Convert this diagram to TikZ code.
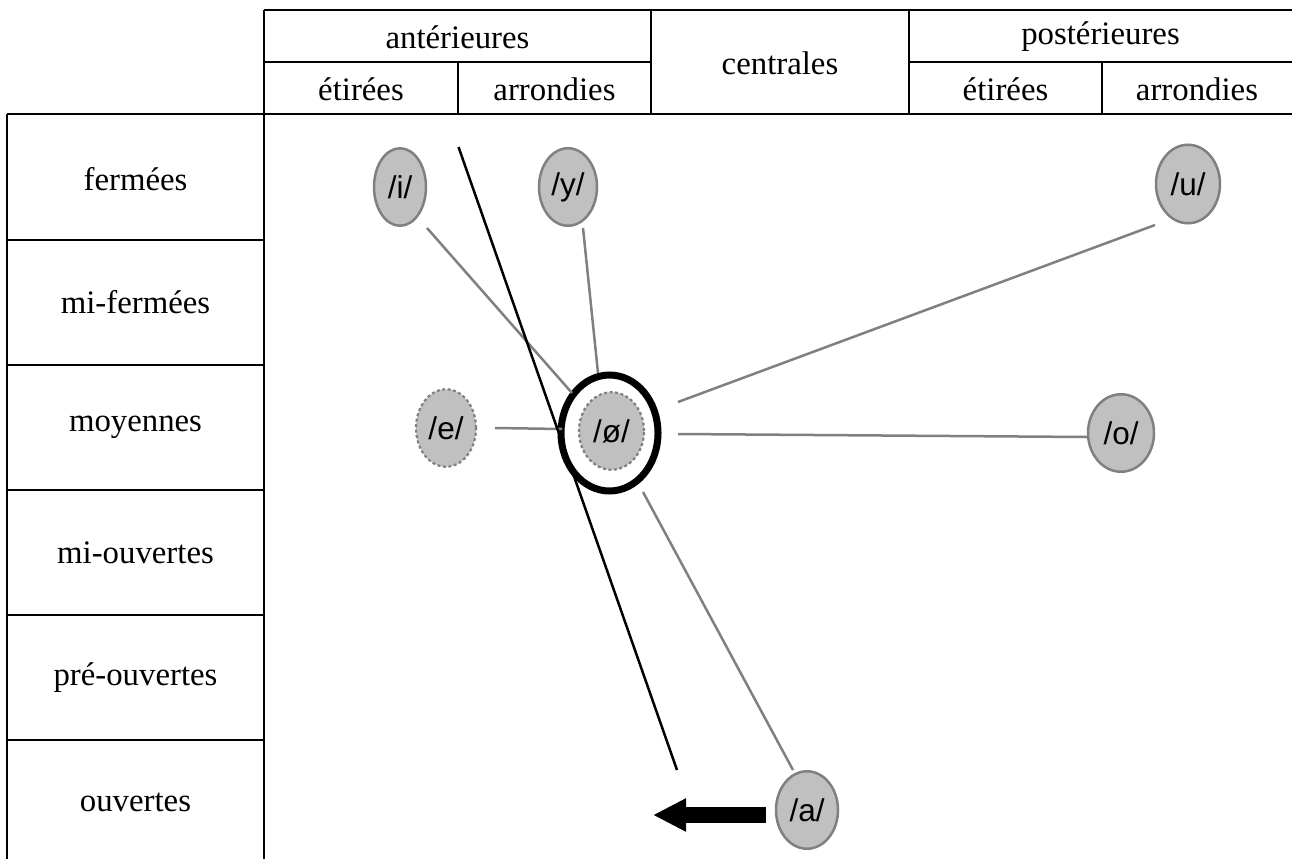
\documentclass[tikz,border=0pt]{standalone}
\usepackage{fontspec}
\setmainfont{Liberation Serif}
\newfontfamily\vowelfont{Liberation Sans}
\usetikzlibrary{shapes.geometric,arrows.meta,calc}
\definecolor{vfill}{HTML}{C0C0C0}
\definecolor{vline}{HTML}{808080}
\begin{document}
\begin{tikzpicture}[x=1pt,y=-1pt,
  rule/.style={line width=1.8pt, black},
  thinrule/.style={line width=1.2pt, black},
  cell/.style={font=\fontsize{32.8}{38}\selectfont, inner sep=0pt},
  vowel/.style={ellipse, draw=vline, fill=vfill, line width=2.5pt, inner sep=0pt,
    minimum height=77.5pt, font=\vowelfont\fontsize{31.5}{36}\selectfont},
  weak/.style={vowel, line width=2.2pt, dash pattern=on 3pt off 2.5pt},
  ringstyle/.style={ellipse, draw=black, line width=7pt, inner sep=0pt,
    minimum width=97pt, minimum height=116pt},
  link/.style={draw=vline, line width=2.5pt},
  bigarrow/.style={line width=16.5pt,
    -{Triangle[length=33pt, width=31pt]}}
]
\useasboundingbox (0,0) rectangle (1292,859);

% header grid
\draw[rule] (264,10) -- (1292,10);
\draw[thinrule] (264,62) -- (651,62) (909,62) -- (1292,62);
\draw[rule] (7,114) -- (1292,114);
\draw[rule] (264,10) -- (264,859);
\draw[thinrule] (458,62) -- (458,114) (651,10) -- (651,114)
  (909,10) -- (909,114) (1102,62) -- (1102,114);

% row headings grid
\draw[rule] (7,114) -- (7,859);
\foreach \yy in {240,365,490,615,740} \draw[rule] (7,\yy) -- (264,\yy);

% column headings
\node[cell] (hant) at (457.5,37) {antérieures};
\node[cell] (hant1) at (361,89) {étirées};
\node[cell] (hant2) at (554.5,89) {arrondies};
\node[cell] (hcen) at (780,63) {centrales};
\node[cell] (hpos) at (1100.5,37) {postérieures};
\node[cell] (hpos1) at (1005.5,89) {étirées};
\node[cell] (hpos2) at (1197,89) {arrondies};

% row headings
\node[cell] (r1) at (135.5,179) {fermées};
\node[cell] (r2) at (135.5,302.5) {mi-fermées};
\node[cell] (r3) at (135.5,427.5) {moyennes};
\node[cell] (r4) at (135.5,552.5) {mi-ouvertes};
\node[cell] (r5) at (135.5,677.5) {pré-ouvertes};
\node[cell] (r6) at (135.5,802.5) {ouvertes};

% vowels
\node[vowel, minimum width=52pt] (i) at (400,187) {/i/};
\node[vowel, minimum width=58pt] (y) at (568,187) {/y/};
\node[vowel, minimum width=64pt, minimum height=78.5pt] (u) at (1188,184) {/u/};
\node[weak, minimum width=60pt] (e) at (446,428) {/e/};
\node[weak, minimum width=65pt] (oe) at (611.5,431) {/ø/};
\node[ringstyle] (ring) at (609.5,433) {};
\node[vowel, minimum width=66pt] (o) at (1121,433) {/o/};
\node[vowel, minimum width=62pt] (a) at (807,810) {/a/};

% links to the central vowel
\draw[link] ($(i.center)+(27,41)$) -- ($(ring.center)+(-37.5,-40)$);
\draw[link] ($(y.center)+(15,41)$) -- ($(ring.center)+(-11.5,-60)$);
\draw[link] ($(u.center)+(-33,41)$) -- ($(ring.center)+(68.5,-31)$);
\draw[link] ($(o.center)+(-34,4)$) -- ($(ring.center)+(68.5,1)$);
\draw[link] ($(e.center)+(49,0)$) -- ($(ring.center)+(-47.5,-4)$);
\draw[link] ($(a.center)+(-14,-40)$) -- ($(ring.center)+(33.5,59)$);

% dividing line
\coordinate (lt) at (458.5,147);
\coordinate (lb) at (677,770);
\draw[line width=2.5pt, black] (lt) -- (lb);

% shift arrow
\coordinate (tip) at (653,815);
\draw[bigarrow] ($(a.center)+(-41.5,5)$) -- (tip);
\end{tikzpicture}
\end{document}
